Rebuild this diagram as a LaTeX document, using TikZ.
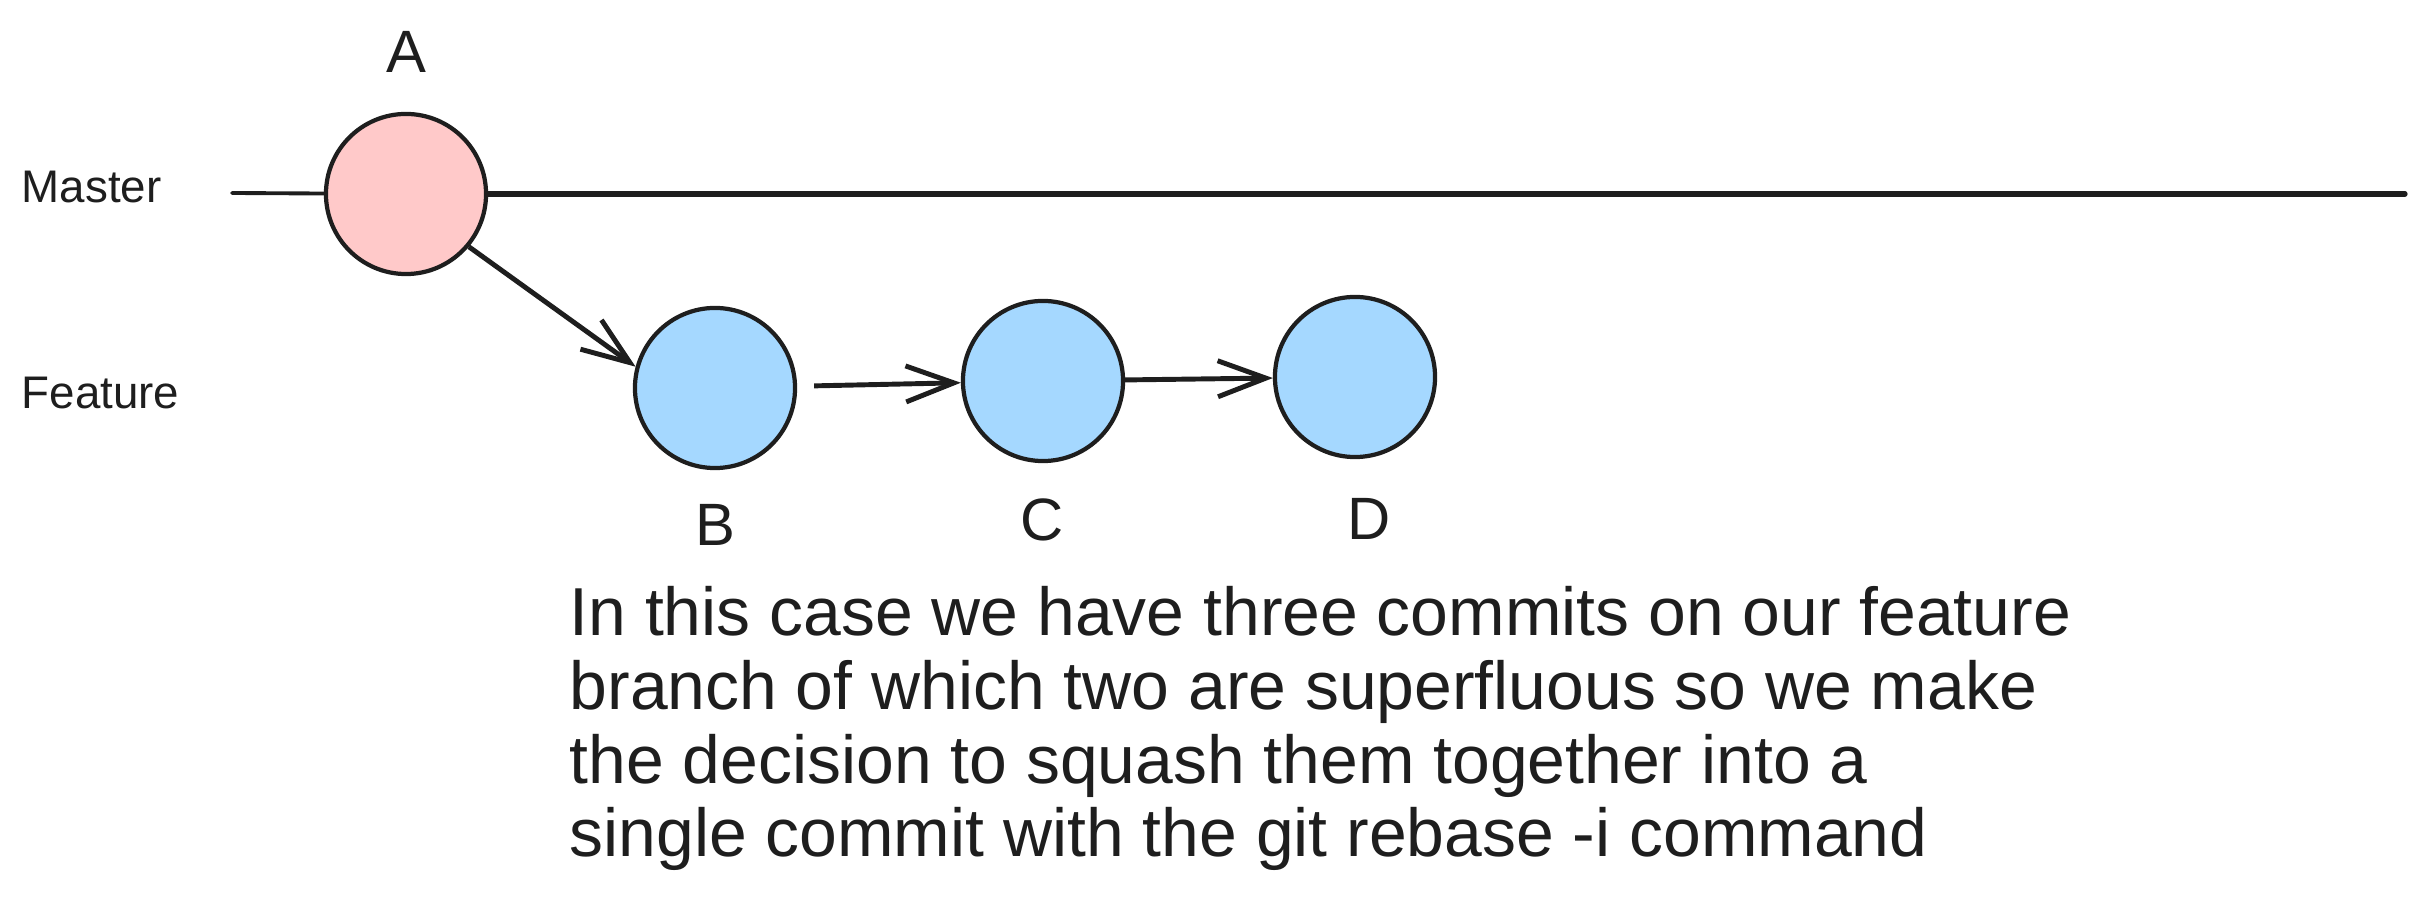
\documentclass[tikz,border=0pt]{standalone}
\usepackage{fontspec}
\setmainfont{Liberation Sans}
\usetikzlibrary{arrows.meta}
\definecolor{inkc}{HTML}{1E1E1E}
\definecolor{pinkc}{HTML}{FFC9C9}
\definecolor{bluec}{HTML}{A5D8FF}

\begin{document}
\begin{tikzpicture}[x=0.01cm,y=0.01cm,
        >={Straight Barb[length=4.8mm,width=3.6mm]},
        main node/.style={circle,draw=inkc,line width=1.2pt,minimum size=1.6cm,inner sep=0pt},
        master node/.style={main node,fill=pinkc},
        feature node/.style={main node,fill=bluec},
        commit text/.style={font=\fontsize{17}{20}\selectfont,text=inkc},
        branch text/.style={font=\fontsize{13}{16}\selectfont,text=inkc,anchor=west,inner sep=0pt}]

    \useasboundingbox (0,0) rectangle (2423,900);

    % Nodes
    \node[master node] (A) at (406,706) {};
    \node[feature node] (B) at (715,512) {};
    \node[feature node] (C) at (1043,519) {};
    \node[feature node] (D) at (1355,523) {};

    \node[commit text] (la) at (406,848) {A};
    \node[commit text] (lb) at (715,375) {B};
    \node[commit text] (lc) at (1042,380) {C};
    \node[commit text] (ld) at (1369,381) {D};

    \node[branch text] (master) at (21,713) {Master};
    \node[branch text] (feature) at (21,507) {Feature};

    \coordinate (mstart) at (232,707);
    \coordinate (mend) at (2405,706);

    \node[anchor=base west,align=left,inner sep=0pt,text=inkc,
        font=\fontsize{19.3}{21}\selectfont] (note) at (569,43)
        {In this case we have three commits on our feature\\
         branch of which two are superfluous so we make\\
         the decision to squash them together into a\\
         single commit with the git rebase -i command};

    % Edges
    \draw[inkc,line width=1.1pt,line cap=round] (mstart) -- (A);
    \draw[inkc,line width=1.5pt,line cap=round] (A) -- (mend);
    \path[->,inkc,line width=1.4pt]
    (A.-40) edge (B.165)
    (B) edge[shorten <=0.17cm] (C)
    (C) edge (D);

\end{tikzpicture}
\end{document}
